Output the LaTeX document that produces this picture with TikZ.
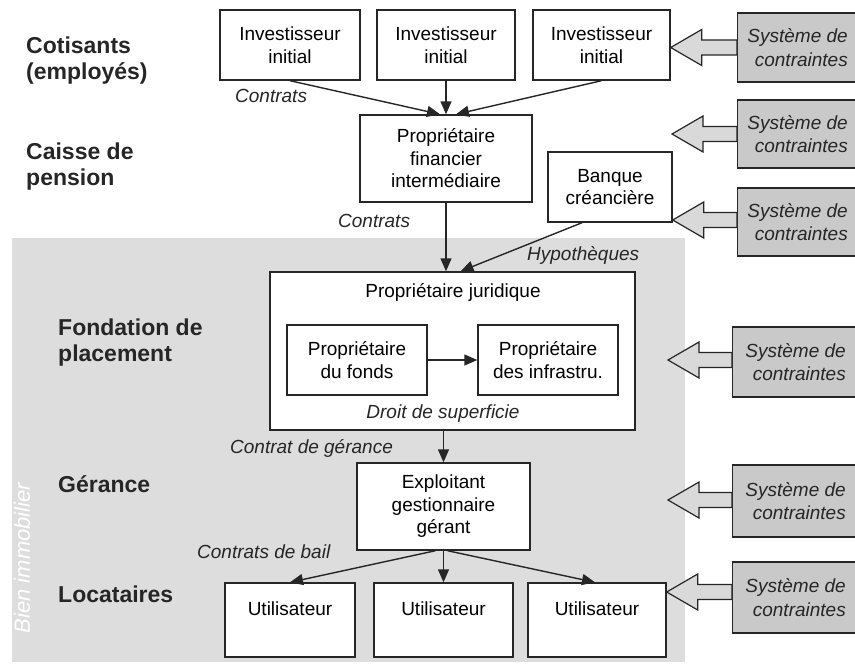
\documentclass[tikz,border=0pt]{standalone}
\usepackage{fontspec}
\setmainfont{Liberation Sans}
\usetikzlibrary{arrows.meta,calc}
\definecolor{lc}{HTML}{262626}
\definecolor{bgray}{HTML}{DDDDDD}
\definecolor{cgray}{HTML}{C9C9C9}
\definecolor{agray}{HTML}{D9D9D9}
\newcommand\conarrow[2]{%
  \draw[carr] ($(#1.west |- #2)+(0,7.5)$) -- ($(#2)+(31,7.5)$) -- ($(#2)+(31,18)$) -- (#2)
    -- ($(#2)+(31,-18)$) -- ($(#2)+(31,-7.5)$) -- ($(#1.west |- #2)+(0,-7.5)$) -- cycle;}
\begin{document}
\begin{tikzpicture}[x=1pt,y=-1pt,
  bx/.style={draw=lc, line width=1.4pt, fill=white, align=center, inner sep=0pt,
    font=\fontsize{19}{22.5}\selectfont},
  lbl/.style={font=\fontsize{23}{26}\selectfont\bfseries, align=left, inner sep=0pt, text=lc},
  itl/.style={font=\fontsize{19}{23.5}\selectfont\itshape, inner sep=0pt, text=lc},
  txt/.style={font=\fontsize{19}{22.5}\selectfont, inner sep=0pt},
  arr/.style={draw=lc, line width=1.4pt, -{Triangle[length=13pt,width=11pt]}},
  cbox/.style={draw=lc, line width=1.4pt, fill=cgray, minimum width=150pt, inner sep=0pt, anchor=west},
  ctxt/.style={itl, align=right, anchor=east},
  carr/.style={draw=lc, line width=1.2pt, fill=agray, line join=miter}
]
\useasboundingbox (0,0) rectangle (855,667);
\clip (0,0) rectangle (855,667);
\fill[white] (0,0) rectangle (855,667);
% real estate band
\fill[bgray] (12,238) rectangle (685,662);
\node[rotate=90, font=\fontsize{22}{26}\selectfont\itshape, text=white, inner sep=0pt] (bien) at (22,558) {Bien immobilier};

% left labels
\node[lbl, anchor=west] (l1) at (26,61) {Cotisants\\(employés)};
\node[lbl, anchor=west] (l2) at (26,167) {Caisse de\\pension};
\node[lbl, anchor=west] (l3) at (58,343) {Fondation de\\placement};
\node[lbl, anchor=base west] (l4) at (58,492) {Gérance};
\node[lbl, anchor=base west] (l5) at (58,602) {Locataires};

% boxes
\node[bx, minimum width=140pt, minimum height=70pt] (inv1) at (290,45) {Investisseur\\initial};
\node[bx, minimum width=138pt, minimum height=70pt] (inv2) at (446,45) {Investisseur\\initial};
\node[bx, minimum width=137pt, minimum height=70pt] (inv3) at (601.5,45) {Investisseur\\initial};
\node[bx, minimum width=172pt, minimum height=87pt] (pfi) at (446,158.5) {Propriétaire\\financier\\intermédiaire};
\node[bx, minimum width=124pt, minimum height=70pt] (banque) at (610,187) {Banque\\créancière};
\node[bx, minimum width=365pt, minimum height=158pt] (jur) at (452.5,351) {};
\node[txt, anchor=base] (jurt) at (453,297) {Propriétaire juridique};
\node[itl, anchor=base] (droit) at (443,418) {Droit de superficie};
\node[bx, minimum width=140pt, minimum height=70pt] (fonds) at (357,360) {Propriétaire\\du fonds};
\node[bx, minimum width=140pt, minimum height=70pt] (infra) at (548,360) {Propriétaire\\des infrastru.};
\node[bx, minimum width=173pt, minimum height=87pt] (expl) at (443.5,506.5) {Exploitant\\gestionnaire\\gérant};
\node[bx, minimum width=130pt, minimum height=74pt] (u1) at (290,620) {Utilisateur\\ \mbox{}};
\node[bx, minimum width=139pt, minimum height=74pt] (u2) at (443.5,620) {Utilisateur\\ \mbox{}};
\node[bx, minimum width=138pt, minimum height=74pt] (u3) at (597,620) {Utilisateur\\ \mbox{}};

% connector labels
\node[itl, anchor=base west] (k1) at (235,102) {Contrats};
\node[itl, anchor=base west] (k2) at (338,227) {Contrats};
\node[itl, anchor=base west] (k3) at (527,260) {Hypothèques};
\node[itl, anchor=base west] (k4) at (230,453) {Contrat de gérance};
\node[itl, anchor=base west] (k5) at (197,558) {Contrats de bail};

% connectors
\draw[arr] (inv1.south) -- ($(pfi.north)+(-6,0)$);
\draw[arr] (inv2.south) -- (pfi.north);
\draw[arr] (inv3.south) -- ($(pfi.north)+(10,0)$);
\draw[arr] (pfi.south) -- (pfi.south |- jur.north);
\draw[arr] ($(banque.south)+(-28,0)$) -- ($(jur.north)+(8,0)$);
\draw[arr] (fonds.east) -- (infra.west);
\draw[arr] (expl.north |- jur.south) -- (expl.north);
\draw[arr] ($(expl.south)+(-8,0)$) -- (u1.north);
\draw[arr] (expl.south) -- (u2.north);
\draw[arr] ($(expl.south)+(4,0)$) -- ($(u3.north)+(-2,0)$);

% constraint systems
\node[cbox, minimum height=69pt] (c1) at (737,47.5) {};
\node[cbox, minimum height=68pt] (c2) at (737,134) {};
\node[cbox, minimum height=68pt] (c3) at (737,222) {};
\node[cbox, minimum height=70pt] (c4) at (732,362) {};
\node[cbox, minimum height=72pt] (c5) at (732,501) {};
\node[cbox, minimum height=71pt] (c6) at (732,597.5) {};
\node[ctxt] (c1t) at (848,47.5) {Système de\\contraintes};
\node[ctxt] (c2t) at (848,134) {Système de\\contraintes};
\node[ctxt] (c3t) at (848,222) {Système de\\contraintes};
\node[ctxt] (c4t) at (846,362) {Système de\\contraintes};
\node[ctxt] (c5t) at (846,501) {Système de\\contraintes};
\node[ctxt] (c6t) at (846,597.5) {Système de\\contraintes};
\coordinate (t1) at (inv3.east |- 0,47.5);
\coordinate (t2) at (672,134);
\coordinate (t3) at (banque.east |- 0,220);
\coordinate (t4) at (668,360);
\coordinate (t5) at (668,500);
\coordinate (t6) at (u3.east |- 0,592);
\conarrow{c1}{t1}
\conarrow{c2}{t2}
\conarrow{c3}{t3}
\conarrow{c4}{t4}
\conarrow{c5}{t5}
\conarrow{c6}{t6}
\end{tikzpicture}
\end{document}
